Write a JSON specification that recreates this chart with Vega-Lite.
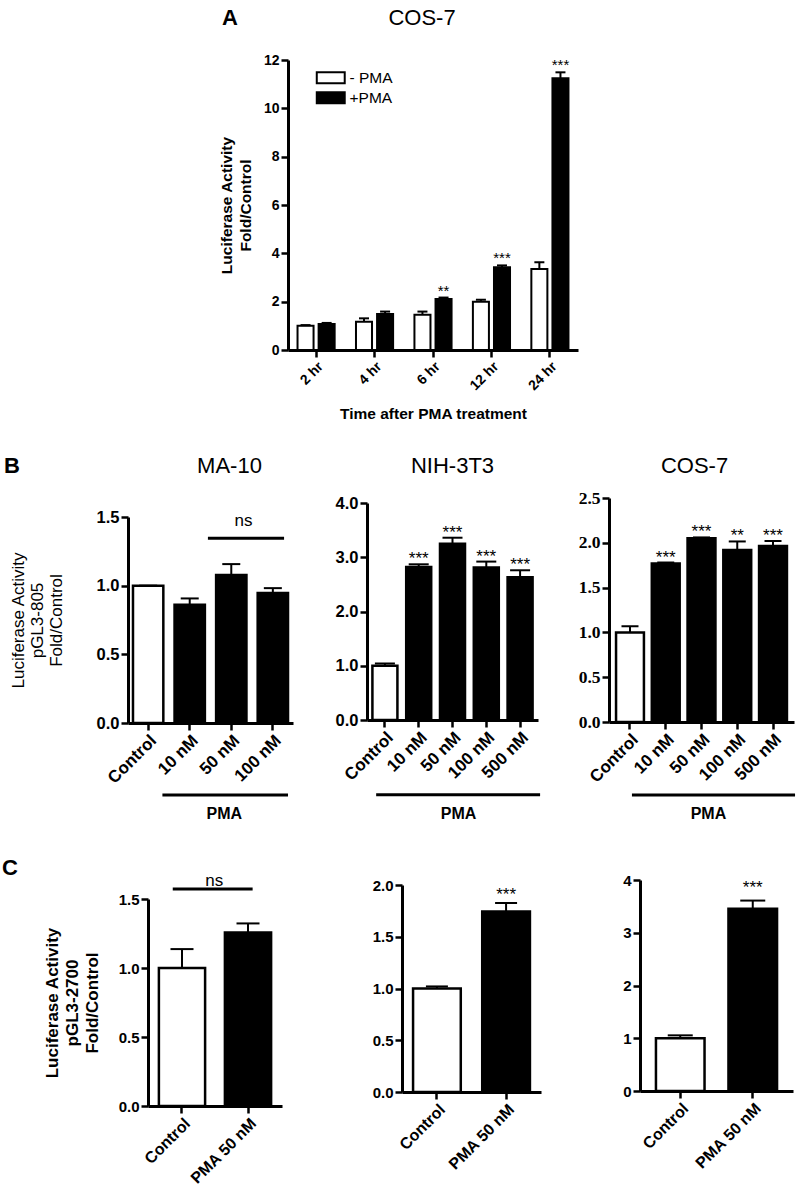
{
  "$schema": "https://vega.github.io/schema/vega-lite/v6.json",
  "background": "white",
  "padding": 0,
  "spacing": 0,
  "config": {
    "view": {"stroke": null},
    "font": "Liberation Sans",
    "axis": {"domainColor": "black", "domainWidth": 3, "tickColor": "black", "tickWidth": 2.5, "tickSize": 7, "labelColor": "black", "labelFont": "Liberation Sans", "labelFontWeight": "bold", "labelPadding": 2, "labelOverlap": false, "grid": false, "titleColor": "black", "titleFont": "Liberation Sans", "titleFontWeight": "bold"},
    "title": {"color": "black", "font": "Liberation Sans", "fontSize": 22, "fontWeight": "normal", "frame": "group", "baseline": "alphabetic"},
    "text": {"color": "black", "font": "Liberation Sans"}
  },
  "datasets": {
    "timecourse": [
      {"time": "2 hr", "treatment": "- PMA", "value": 1.0, "upper": 1.03, "sig": ""},
      {"time": "2 hr", "treatment": "+PMA", "value": 1.08, "upper": 1.12, "sig": ""},
      {"time": "4 hr", "treatment": "- PMA", "value": 1.17, "upper": 1.31, "sig": ""},
      {"time": "4 hr", "treatment": "+PMA", "value": 1.49, "upper": 1.59, "sig": ""},
      {"time": "6 hr", "treatment": "- PMA", "value": 1.46, "upper": 1.59, "sig": ""},
      {"time": "6 hr", "treatment": "+PMA", "value": 2.11, "upper": 2.17, "sig": "**"},
      {"time": "12 hr", "treatment": "- PMA", "value": 2.0, "upper": 2.08, "sig": ""},
      {"time": "12 hr", "treatment": "+PMA", "value": 3.42, "upper": 3.5, "sig": "***"},
      {"time": "24 hr", "treatment": "- PMA", "value": 3.35, "upper": 3.63, "sig": ""},
      {"time": "24 hr", "treatment": "+PMA", "value": 11.24, "upper": 11.49, "sig": "***"}
    ],
    "ma10": [
      {"dose": "Control", "value": 1.0, "upper": 1.0, "sig": ""},
      {"dose": "10 nM", "value": 0.861, "upper": 0.907, "sig": ""},
      {"dose": "50 nM", "value": 1.077, "upper": 1.157, "sig": ""},
      {"dose": "100 nM", "value": 0.946, "upper": 0.982, "sig": ""}
    ],
    "nih": [
      {"dose": "Control", "value": 1.0, "upper": 1.04, "sig": ""},
      {"dose": "10 nM", "value": 2.82, "upper": 2.87, "sig": "***"},
      {"dose": "50 nM", "value": 3.25, "upper": 3.36, "sig": "***"},
      {"dose": "100 nM", "value": 2.81, "upper": 2.92, "sig": "***"},
      {"dose": "500 nM", "value": 2.63, "upper": 2.76, "sig": "***"}
    ],
    "cosb": [
      {"dose": "Control", "value": 1.0, "upper": 1.07, "sig": ""},
      {"dose": "10 nM", "value": 1.77, "upper": 1.78, "sig": "***"},
      {"dose": "50 nM", "value": 2.05, "upper": 2.06, "sig": "***"},
      {"dose": "100 nM", "value": 1.92, "upper": 2.015, "sig": "**"},
      {"dose": "500 nM", "value": 1.963, "upper": 2.02, "sig": "***"}
    ],
    "c1": [
      {"dose": "Control", "value": 1.0, "upper": 1.137, "sig": ""},
      {"dose": "PMA 50 nM", "value": 1.258, "upper": 1.323, "sig": ""}
    ],
    "c2": [
      {"dose": "Control", "value": 1.0, "upper": 1.02, "sig": ""},
      {"dose": "PMA 50 nM", "value": 1.745, "upper": 1.826, "sig": "***"}
    ],
    "c3": [
      {"dose": "Control", "value": 1.0, "upper": 1.055, "sig": ""},
      {"dose": "PMA 50 nM", "value": 3.456, "upper": 3.61, "sig": "***"}
    ],
    "ma10_ns": [{"from": "50 nM", "to": "100 nM", "label": "ns"}],
    "c1_ns": [{"from": "Control", "to": "PMA 50 nM", "label": "ns"}],
    "ma10_pma": [{"from": "10 nM", "to": "100 nM", "mid": "50 nM", "label": "PMA"}],
    "nih_pma": [{"from": "Control", "to": "500 nM", "mid": "50 nM", "label": "PMA"}],
    "cosb_pma": [{"from": "Control", "to": "500 nM", "mid": "50 nM", "label": "PMA"}]
  },
  "vconcat": [
    {
      "hconcat": [
        {"width": 288, "height": 440, "title": {"text": "A", "anchor": "end", "offset": -30, "dx": -50, "fontWeight": "bold", "fontSize": 22}, "data": {"values": [{}]}, "mark": {"type": "text"}, "encoding": {"text": {"value": ""}}},
        {
          "width": 290, "height": 350,
          "title": {"text": "COS-7", "offset": -30, "dx": -11},
          "data": {"name": "timecourse"},
          "layer": [
            {"mark": {"type": "bar", "stroke": "black", "strokeWidth": 2},
             "encoding": {
               "x": {"field": "time", "type": "nominal", "sort": null, "scale": {"domain": ["2 hr", "4 hr", "6 hr", "12 hr", "24 hr"], "paddingInner": 0.365, "paddingOuter": 0.163}, "axis": {"labelAngle": -45, "labelFontSize": 14, "title": "Time after PMA treatment", "titleFontSize": 15.5, "titlePadding": 14}},
               "xOffset": {"field": "treatment", "type": "nominal", "sort": null, "scale": {"domain": ["- PMA", "+PMA"], "paddingInner": 0.24, "paddingOuter": 0}},
               "y": {"field": "value", "type": "quantitative", "scale": {"domain": [0, 12], "nice": false, "range": [350, 60]}, "axis": {"values": [0, 1, 2, 3, 4, 5, 6, 7, 8, 9, 10, 11, 12], "labelFontSize": 14, "title": ["Luciferase Activity", "Fold/Control"], "titleFontSize": 15.5, "titleLineHeight": 19, "titlePadding": 10}},
               "fill": {"field": "treatment", "type": "nominal", "sort": null, "scale": {"domain": ["- PMA", "+PMA"], "range": ["white", "black"]},
                        "legend": {"title": null, "orient": "none", "legendX": 323, "legendY": 70, "symbolType": "M-2.5,-1H2.5V1H-2.5Z", "symbolSize": 125, "symbolStrokeColor": "black", "symbolStrokeWidth": 2, "labelFontSize": 15.5, "labelOffset": 11, "rowPadding": 0, "labelColor": "black", "labelFont": "Liberation Sans"}}
             }},
            {"mark": {"type": "rule", "strokeWidth": 2, "color": "black"},
             "encoding": {"x": {"field": "time", "type": "nominal", "sort": null}, "xOffset": {"field": "treatment", "type": "nominal", "sort": null}, "y": {"field": "value", "type": "quantitative"}, "y2": {"field": "upper"}}},
            {"mark": {"type": "tick", "thickness": 2, "size": 10, "color": "black", "opacity": 1},
             "encoding": {"x": {"field": "time", "type": "nominal", "sort": null}, "xOffset": {"field": "treatment", "type": "nominal", "sort": null}, "y": {"field": "upper", "type": "quantitative"}}},
            {"mark": {"type": "text", "fontSize": 15, "baseline": "alphabetic", "dy": -2},
             "encoding": {"x": {"field": "time", "type": "nominal", "sort": null}, "xOffset": {"field": "treatment", "type": "nominal", "sort": null}, "y": {"field": "upper", "type": "quantitative"}, "text": {"field": "sig"}}}
          ]
        }
      ],
      "spacing": 0, "bounds": "flush"
    },
    {
      "hconcat": [
        {"width": 128, "height": 402, "title": {"text": "B", "anchor": "start", "offset": -37, "dx": 4, "fontWeight": "bold", "fontSize": 22}, "data": {"values": [{}]}, "mark": {"type": "text"}, "encoding": {"text": {"value": ""}}},
        {
          "width": 165, "height": 282,
          "title": {"text": "MA-10", "offset": -37, "dx": 19},
          "data": {"name": "ma10"},
          "layer": [
            {"mark": {"type": "bar", "stroke": "black", "strokeWidth": 2.5},
             "encoding": {
               "x": {"field": "dose", "type": "nominal", "sort": null, "scale": {"domain": ["Control", "10 nM", "50 nM", "100 nM"], "paddingInner": 0.27, "paddingOuter": 0.12}, "axis": {"labelAngle": -45, "labelFontSize": 17, "title": null}},
               "y": {"field": "value", "type": "quantitative", "scale": {"domain": [0, 1.5], "nice": false, "range": [282, 76]}, "axis": {"values": [0, 0.5, 1, 1.5], "format": ".1f", "labelFontSize": 16.5, "title": ["Luciferase Activity", "pGL3-805", "Fold/Control"], "titleFontWeight": "normal", "titleFontSize": 17, "titleLineHeight": 19, "titlePadding": 31}},
               "fill": {"condition": {"test": "datum.dose === 'Control'", "value": "white"}, "value": "black"}
             }},
            {"mark": {"type": "rule", "strokeWidth": 2, "color": "black"},
             "encoding": {"x": {"field": "dose", "type": "nominal", "sort": null}, "y": {"field": "value", "type": "quantitative"}, "y2": {"field": "upper"}}},
            {"mark": {"type": "tick", "thickness": 2, "size": 18, "color": "black", "opacity": 1},
             "encoding": {"x": {"field": "dose", "type": "nominal", "sort": null}, "y": {"field": "upper", "type": "quantitative"}}},
            {"data": {"name": "ma10_ns"}, "mark": {"type": "rule", "strokeWidth": 3, "color": "black"},
             "encoding": {"x": {"field": "from", "type": "nominal", "bandPosition": -0.27}, "x2": {"field": "to", "bandPosition": 0.87}, "y": {"datum": 1.345}}},
            {"data": {"name": "ma10_ns"}, "mark": {"type": "text", "fontSize": 17, "baseline": "alphabetic"},
             "encoding": {"x": {"field": "from", "type": "nominal", "bandPosition": 0.9}, "y": {"datum": 1.434}, "text": {"field": "label"}}},
            {"data": {"name": "ma10_pma"}, "mark": {"type": "rule", "strokeWidth": 3, "color": "black"},
             "encoding": {"x": {"field": "from", "type": "nominal", "bandPosition": -0.4}, "x2": {"field": "to", "bandPosition": 1.0}, "y": {"datum": -0.524}}},
            {"data": {"name": "ma10_pma"}, "mark": {"type": "text", "fontSize": 16, "fontWeight": "bold", "baseline": "middle"},
             "encoding": {"x": {"field": "mid", "type": "nominal", "bandPosition": 0.27}, "y": {"datum": -0.662}, "text": {"field": "label"}}}
          ]
        },
        {"width": 74, "height": 10, "data": {"values": [{}]}, "mark": {"type": "text"}, "encoding": {"text": {"value": ""}}},
        {
          "width": 171, "height": 279,
          "title": {"text": "NIH-3T3", "offset": -37, "dx": 0},
          "data": {"name": "nih"},
          "layer": [
            {"mark": {"type": "bar", "stroke": "black", "strokeWidth": 2.5},
             "encoding": {
               "x": {"field": "dose", "type": "nominal", "sort": null, "scale": {"domain": ["Control", "10 nM", "50 nM", "100 nM", "500 nM"], "paddingInner": 0.26, "paddingOuter": 0.16}, "axis": {"labelAngle": -45, "labelFontSize": 17, "title": null}},
               "y": {"field": "value", "type": "quantitative", "scale": {"domain": [0, 4], "nice": false, "range": [279, 62]}, "axis": {"values": [0, 0.5, 1, 1.5, 2, 2.5, 3, 3.5, 4], "format": ".1f", "labelFontSize": 16.5, "title": null}},
               "fill": {"condition": {"test": "datum.dose === 'Control'", "value": "white"}, "value": "black"}
             }},
            {"mark": {"type": "rule", "strokeWidth": 2, "color": "black"},
             "encoding": {"x": {"field": "dose", "type": "nominal", "sort": null}, "y": {"field": "value", "type": "quantitative"}, "y2": {"field": "upper"}}},
            {"mark": {"type": "tick", "thickness": 2, "size": 20, "color": "black", "opacity": 1},
             "encoding": {"x": {"field": "dose", "type": "nominal", "sort": null}, "y": {"field": "upper", "type": "quantitative"}}},
            {"mark": {"type": "text", "fontSize": 17, "baseline": "alphabetic", "dy": 0},
             "encoding": {"x": {"field": "dose", "type": "nominal", "sort": null}, "y": {"field": "upper", "type": "quantitative"}, "text": {"field": "sig"}}},
            {"data": {"name": "nih_pma"}, "mark": {"type": "rule", "strokeWidth": 3, "color": "black"},
             "encoding": {"x": {"field": "from", "type": "nominal", "bandPosition": 0.15}, "x2": {"field": "to", "bandPosition": 1.3}, "y": {"datum": -1.38}}},
            {"data": {"name": "nih_pma"}, "mark": {"type": "text", "fontSize": 16, "fontWeight": "bold", "baseline": "middle"},
             "encoding": {"x": {"field": "mid", "type": "nominal", "bandPosition": 0.74}, "y": {"datum": -1.733}, "text": {"field": "label"}}}
          ]
        },
        {"width": 71, "height": 10, "data": {"values": [{}]}, "mark": {"type": "text"}, "encoding": {"text": {"value": ""}}},
        {
          "width": 185, "height": 281,
          "title": {"text": "COS-7", "offset": -37, "dx": -7},
          "data": {"name": "cosb"},
          "layer": [
            {"mark": {"type": "bar", "stroke": "black", "strokeWidth": 2.5},
             "encoding": {
               "x": {"field": "dose", "type": "nominal", "sort": null, "scale": {"domain": ["Control", "10 nM", "50 nM", "100 nM", "500 nM"], "paddingInner": 0.22, "paddingOuter": 0.197}, "axis": {"labelAngle": -45, "labelFontSize": 17, "title": null}},
               "y": {"field": "value", "type": "quantitative", "scale": {"domain": [0, 2.5], "nice": false, "range": [281, 57]}, "axis": {"values": [0, 0.5, 1, 1.5, 2, 2.5], "format": ".1f", "labelFontSize": 17.5, "labelFont": "Liberation Serif", "title": null}},
               "fill": {"condition": {"test": "datum.dose === 'Control'", "value": "white"}, "value": "black"}
             }},
            {"mark": {"type": "rule", "strokeWidth": 2, "color": "black"},
             "encoding": {"x": {"field": "dose", "type": "nominal", "sort": null}, "y": {"field": "value", "type": "quantitative"}, "y2": {"field": "upper"}}},
            {"mark": {"type": "tick", "thickness": 2, "size": 17, "color": "black", "opacity": 1},
             "encoding": {"x": {"field": "dose", "type": "nominal", "sort": null}, "y": {"field": "upper", "type": "quantitative"}}},
            {"mark": {"type": "text", "fontSize": 17, "baseline": "alphabetic", "dy": 0},
             "encoding": {"x": {"field": "dose", "type": "nominal", "sort": null}, "y": {"field": "upper", "type": "quantitative"}, "text": {"field": "sig"}}},
            {"data": {"name": "cosb_pma"}, "mark": {"type": "rule", "strokeWidth": 3, "color": "black"},
             "encoding": {"x": {"field": "from", "type": "nominal", "bandPosition": 0.57}, "x2": {"field": "to", "bandPosition": 1.29}, "y": {"datum": -0.815}}},
            {"data": {"name": "cosb_pma"}, "mark": {"type": "text", "fontSize": 16, "fontWeight": "bold", "baseline": "middle"},
             "encoding": {"x": {"field": "mid", "type": "nominal", "bandPosition": 0.75}, "y": {"datum": -1.027}, "text": {"field": "label"}}}
          ]
        }
      ],
      "spacing": 0, "bounds": "flush"
    },
    {
      "hconcat": [
        {"width": 148, "height": 345, "title": {"text": "C", "anchor": "start", "offset": -36, "dx": 2, "fontWeight": "bold", "fontSize": 22}, "data": {"values": [{}]}, "mark": {"type": "text"}, "encoding": {"text": {"value": ""}}},
        {
          "width": 134, "height": 262,
          "data": {"name": "c1"},
          "layer": [
            {"mark": {"type": "bar", "stroke": "black", "strokeWidth": 2.5},
             "encoding": {
               "x": {"field": "dose", "type": "nominal", "sort": null, "scale": {"domain": ["Control", "PMA 50 nM"], "paddingInner": 0.3, "paddingOuter": 0.165}, "axis": {"labelAngle": -45, "labelFontSize": 16, "title": null}},
               "y": {"field": "value", "type": "quantitative", "scale": {"domain": [0, 1.5], "nice": false, "range": [262, 55]}, "axis": {"values": [0, 0.5, 1, 1.5], "format": ".1f", "labelFontSize": 15, "title": ["Luciferase Activity", "pGL3-2700", "Fold/Control"], "titleFontSize": 17, "titleLineHeight": 20, "titlePadding": 17}},
               "fill": {"condition": {"test": "datum.dose === 'Control'", "value": "white"}, "value": "black"}
             }},
            {"mark": {"type": "rule", "strokeWidth": 2, "color": "black"},
             "encoding": {"x": {"field": "dose", "type": "nominal", "sort": null}, "y": {"field": "value", "type": "quantitative"}, "y2": {"field": "upper"}}},
            {"mark": {"type": "tick", "thickness": 2, "size": 23, "color": "black", "opacity": 1},
             "encoding": {"x": {"field": "dose", "type": "nominal", "sort": null}, "y": {"field": "upper", "type": "quantitative"}}},
            {"data": {"name": "c1_ns"}, "mark": {"type": "rule", "strokeWidth": 3, "color": "black"},
             "encoding": {"x": {"field": "from", "type": "nominal", "bandPosition": 0.3}, "x2": {"field": "to", "bandPosition": 0.6}, "y": {"datum": 1.572}}},
            {"data": {"name": "c1_ns"}, "mark": {"type": "text", "fontSize": 17, "baseline": "alphabetic"},
             "encoding": {"x": {"field": "from", "type": "nominal", "bandPosition": 1.2}, "y": {"datum": 1.594}, "text": {"field": "label"}}}
          ]
        },
        {"width": 120, "height": 10, "data": {"values": [{}]}, "mark": {"type": "text"}, "encoding": {"text": {"value": ""}}},
        {
          "width": 139, "height": 248,
          "data": {"name": "c2"},
          "layer": [
            {"mark": {"type": "bar", "stroke": "black", "strokeWidth": 2.5},
             "encoding": {
               "x": {"field": "dose", "type": "nominal", "sort": null, "scale": {"domain": ["Control", "PMA 50 nM"], "paddingInner": 0.31, "paddingOuter": 0.16}, "axis": {"labelAngle": -45, "labelFontSize": 16, "title": null}},
               "y": {"field": "value", "type": "quantitative", "scale": {"domain": [0, 2], "nice": false, "range": [248, 41]}, "axis": {"values": [0, 0.5, 1, 1.5, 2], "format": ".1f", "labelFontSize": 15, "title": null}},
               "fill": {"condition": {"test": "datum.dose === 'Control'", "value": "white"}, "value": "black"}
             }},
            {"mark": {"type": "rule", "strokeWidth": 2, "color": "black"},
             "encoding": {"x": {"field": "dose", "type": "nominal", "sort": null}, "y": {"field": "value", "type": "quantitative"}, "y2": {"field": "upper"}}},
            {"mark": {"type": "tick", "thickness": 2, "size": 22, "color": "black", "opacity": 1},
             "encoding": {"x": {"field": "dose", "type": "nominal", "sort": null}, "y": {"field": "upper", "type": "quantitative"}}},
            {"mark": {"type": "text", "fontSize": 17, "baseline": "alphabetic", "dy": -3},
             "encoding": {"x": {"field": "dose", "type": "nominal", "sort": null}, "y": {"field": "upper", "type": "quantitative"}, "text": {"field": "sig"}}}
          ]
        },
        {"width": 99, "height": 10, "data": {"values": [{}]}, "mark": {"type": "text"}, "encoding": {"text": {"value": ""}}},
        {
          "width": 153, "height": 247,
          "data": {"name": "c3"},
          "layer": [
            {"mark": {"type": "bar", "stroke": "black", "strokeWidth": 2.5},
             "encoding": {
               "x": {"field": "dose", "type": "nominal", "sort": null, "scale": {"domain": ["Control", "PMA 50 nM"], "paddingInner": 0.33, "paddingOuter": 0.22}, "axis": {"labelAngle": -45, "labelFontSize": 16, "title": null}},
               "y": {"field": "value", "type": "quantitative", "scale": {"domain": [0, 4], "nice": false, "range": [247, 36]}, "axis": {"values": [0, 1, 2, 3, 4], "format": "d", "labelFontSize": 15, "title": null}},
               "fill": {"condition": {"test": "datum.dose === 'Control'", "value": "white"}, "value": "black"}
             }},
            {"mark": {"type": "rule", "strokeWidth": 2, "color": "black"},
             "encoding": {"x": {"field": "dose", "type": "nominal", "sort": null}, "y": {"field": "value", "type": "quantitative"}, "y2": {"field": "upper"}}},
            {"mark": {"type": "tick", "thickness": 2, "size": 25, "color": "black", "opacity": 1},
             "encoding": {"x": {"field": "dose", "type": "nominal", "sort": null}, "y": {"field": "upper", "type": "quantitative"}}},
            {"mark": {"type": "text", "fontSize": 17, "baseline": "alphabetic", "dy": -8},
             "encoding": {"x": {"field": "dose", "type": "nominal", "sort": null}, "y": {"field": "upper", "type": "quantitative"}, "text": {"field": "sig"}}}
          ]
        }
      ],
      "spacing": 0, "bounds": "flush"
    }
  ]
}
